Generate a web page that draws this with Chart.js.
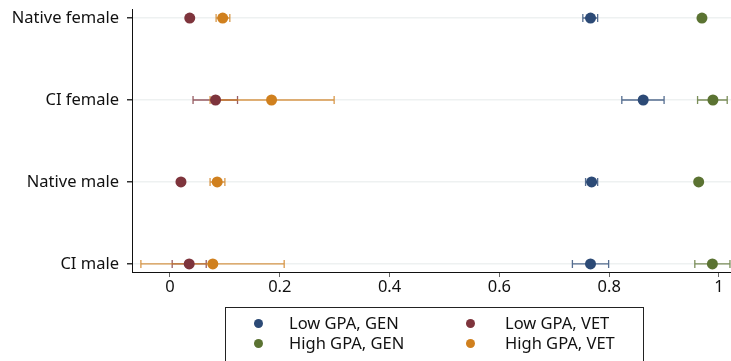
<!DOCTYPE html>
<html><head><meta charset="utf-8">
<script src="https://cdn.jsdelivr.net/npm/chart.js@4/dist/chart.umd.min.js"></script>
<style>
html,body{margin:0;padding:0;background:#fff;}
#wrap{position:relative;width:731px;height:361px;overflow:hidden;}
#legend{position:absolute;left:225px;top:307px;width:419px;height:70px;border:1px solid #222;box-sizing:border-box;font-family:"Noto Sans",sans-serif;font-size:16.5px;color:#111;}
.item{position:absolute;white-space:nowrap;line-height:20px;}
.dot{position:absolute;width:9px;height:9px;border-radius:50%;}
</style></head>
<body>
<div id="wrap"><canvas id="c" width="731" height="361"></canvas><div id="legend"></div></div>
<script>
// categories, bottom to top (y = 1..4)
const categories = ["CI male", "Native male", "CI female", "Native female"];
const seriesNames = ["Low GPA, GEN", "Low GPA, VET", "High GPA, GEN", "High GPA, VET"];
const seriesColors = ["#2c4a76", "#7e343c", "#5b7332", "#d0801e"];
// point estimates per category (CI male, Native male, CI female, Native female)
const lowGen  = [0.766, 0.768, 0.862, 0.766];
const lowVet  = [0.035, 0.020, 0.083, 0.036];
const highGen = [0.988, 0.963, 0.989, 0.969];
const highVet = [0.078, 0.086, 0.185, 0.096];
// confidence interval bounds (null = not shown)
const lowGenLo  = [0.733, 0.757, 0.823, 0.752];
const lowGenHi  = [0.799, 0.779, 0.900, 0.779];
const lowVetLo  = [0.004, null, 0.042, null];
const lowVetHi  = [0.066, null, 0.123, null];
const highGenLo = [0.956, null, 0.961, null];
const highGenHi = [1.020, null, 1.015, null];
const highVetLo = [-0.053, 0.073, 0.073, 0.084];
const highVetHi = [0.208, 0.100, 0.299, 0.109];
const xTicks = [0, 0.2, 0.4, 0.6, 0.8, 1];

const series = [
  {v: lowGen, lo: lowGenLo, hi: lowGenHi},
  {v: lowVet, lo: lowVetLo, hi: lowVetHi},
  {v: highGen, lo: highGenLo, hi: highGenHi},
  {v: highVet, lo: highVetLo, hi: highVetHi}
];

function hexA(h, a){const n=parseInt(h.slice(1),16);return `rgba(${n>>16},${(n>>8)&255},${n&255},${a})`;}

const datasets = series.map((s, i) => ({
  label: seriesNames[i],
  data: s.v.map((v, k) => ({x: v, y: k + 1, lo: s.lo[k], hi: s.hi[k]})),
  backgroundColor: seriesColors[i],
  borderColor: seriesColors[i],
  pointRadius: 5.5,
  pointBorderWidth: 0,
  showLine: false,
  clip: false
}));

const errorBars = {
  id: 'errorBars',
  beforeDatasetsDraw(chart) {
    const ctx = chart.ctx, xs = chart.scales.x, ys = chart.scales.y;
    ctx.save();
    chart.data.datasets.forEach((ds, i) => {
      ctx.strokeStyle = hexA(seriesColors[i], 0.8);
      ctx.lineWidth = 1.3;
      ds.data.forEach(p => {
        if (p.lo == null) return;
        const y = ys.getPixelForValue(p.y);
        const x1 = xs.getPixelForValue(p.lo), x2 = xs.getPixelForValue(p.hi);
        ctx.beginPath();
        ctx.moveTo(x1, y); ctx.lineTo(x2, y);
        ctx.moveTo(x1, y - 4); ctx.lineTo(x1, y + 4);
        ctx.moveTo(x2, y - 4); ctx.lineTo(x2, y + 4);
        ctx.stroke();
      });
    });
    ctx.restore();
  }
};

new Chart(document.getElementById('c'), {
  type: 'scatter',
  data: {datasets},
  options: {
    responsive: false,
    animation: false,
    layout: {autoPadding: false, padding: {top: 9, right: 0, bottom: 59, left: 0}},
    plugins: {legend: {display: false}, tooltip: {enabled: false}},
    scales: {
      x: {
        type: 'linear', min: -0.0692, max: 1.0219,
        afterBuildTicks(s){ s.ticks = xTicks.map(v => ({value: v})); },
        afterFit(s){ s.height = 30; s.paddingLeft = 0; s.paddingRight = 0; },
        grid: {drawOnChartArea: false, drawTicks: true, tickLength: 5, tickColor: '#666'},
        border: {display: true, color: '#111', width: 1},
        ticks: {color: '#111', font: {family: 'Noto Sans', size: 16.5}, padding: 0, maxRotation: 0,
          callback: (v) => String(v)}
      },
      y: {
        type: 'linear', min: 0.902, max: 4.11,
        afterBuildTicks(s){ s.ticks = categories.map((c, i) => ({value: i + 1})); },
        afterFit(s){ s.width = 132; s.paddingTop = 0; s.paddingBottom = 0; },
        grid: {color: '#eef1f1', lineWidth: 1.5, drawTicks: true, tickLength: 5, tickColor: '#333'},
        border: {display: true, color: '#111', width: 1},
        ticks: {color: '#111', font: {family: 'Noto Sans', size: 16.5}, padding: 8,
          callback: (v) => categories[Math.round(v) - 1] || ''}
      }
    }
  },
  plugins: [errorBars]
});

// legend (2x2)
const leg = document.getElementById('legend');
const pos = [[0,0],[1,0],[0,1],[1,1]];
seriesNames.forEach((name, si) => {
  const [col, row] = pos[si];
  const dot = document.createElement('div');
  dot.className = 'dot';
  dot.style.background = seriesColors[si];
  dot.style.left = (col ? 240 : 28) + 'px';
  dot.style.top = (row ? 31 : 11) + 'px';
  leg.appendChild(dot);
  const t = document.createElement('div');
  t.className = 'item';
  t.textContent = name;
  t.style.left = (col ? 279 : 63) + 'px';
  t.style.top = (row ? 25 : 5) + 'px';
  leg.appendChild(t);
});
</script>
</body></html>
